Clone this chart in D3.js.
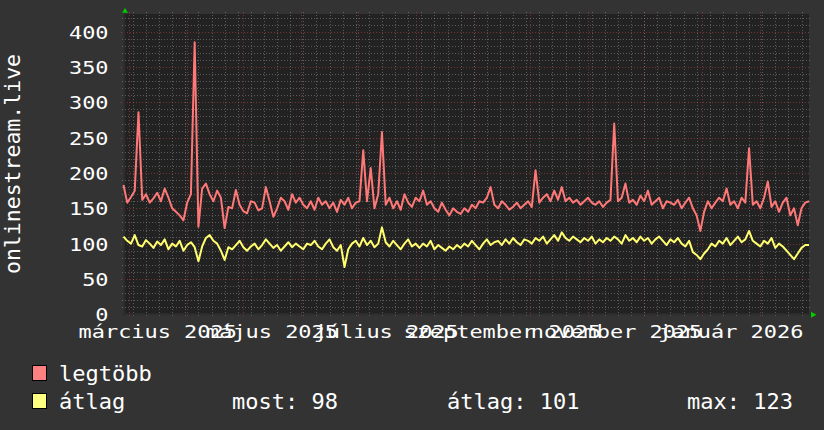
<!DOCTYPE html>
<html>
<head>
<meta charset="utf-8">
<script src="https://d3js.org/d3.v7.min.js"></script>
<style>
  body { margin: 0; background: #333333; }
  svg { display: block; }
</style>
</head>
<body>
<div id="chart"></div>
<script>
// one point every 2 days, from startDay on
var startDay = "2025-02-26";
var endDay = "2026-02-27";
var stepDays = 2;

var legtobb = [
  183,158,166,175,286,162,170,158,164,172,
  160,178,165,150,145,140,133,158,170,385,
  124,178,185,170,160,175,165,122,152,150,
  176,155,146,143,160,158,147,150,180,160,
  138,150,165,160,148,170,158,165,155,150,
  160,148,165,155,160,150,158,145,162,155,
  165,150,158,160,232,160,207,150,170,258,
  155,165,150,160,148,170,158,152,165,160,
  175,155,160,150,145,158,148,140,150,145,
  142,150,145,155,150,160,158,165,180,155,
  150,160,155,148,152,158,150,155,160,152,
  204,158,165,170,160,175,162,180,160,165,
  158,162,155,160,165,158,155,160,152,158,
  162,270,160,165,185,158,162,155,168,160,
  175,155,160,165,150,160,158,155,162,150,
  158,165,150,140,118,145,160,150,158,165,
  160,178,155,160,150,165,158,235,155,160,
  150,165,188,152,160,145,158,165,140,150,
  126,150,158,160
];

var atlag = [
  110,104,100,112,98,96,105,100,94,103,
  98,106,92,100,96,104,90,98,102,95,
  75,96,108,112,104,100,90,77,95,92,
  98,104,95,90,96,100,92,98,106,100,
  94,98,90,96,102,95,100,96,92,100,
  98,104,96,92,100,106,95,90,98,67,
  92,100,104,96,108,98,104,95,100,123,
  102,96,104,98,92,100,106,96,100,94,
  100,96,104,92,98,94,90,96,92,98,
  94,100,96,104,98,92,100,106,98,102,
  104,98,106,100,108,102,98,106,104,100,
  108,104,110,100,106,112,104,116,108,104,
  110,106,102,108,104,110,100,106,102,108,
  104,110,106,100,112,104,108,102,110,104,
  108,100,106,110,104,98,106,102,108,100,
  96,104,88,84,78,86,92,100,96,104,
  100,108,98,104,110,102,106,118,104,100,
  96,104,100,108,94,100,96,90,84,78,
  86,94,98,98
];

var labelMonths = ["2025-03-01","2025-05-01","2025-07-01","2025-09-01","2025-11-01","2026-01-01"];
var monthLabels = ["március 2025","május 2025","július 2025","szeptember 2025","november 2025","január 2026"];
var yLabels = [0,50,100,150,200,250,300,350,400];
var yMax = 425;

var seriesNames = ["legtöbb","átlag"];
var statNames = ["most:","átlag:","max:"];
var statValues = [98,101,123];

var width = 824, height = 430;
var plotLeft = 124, plotRight = 809, plotTop = 14, plotBottom = 314.3;
var axisStretch = 1.185;

var parseDay = d3.timeParse("%Y-%m-%d");
var t0 = parseDay(startDay);

var x = d3.scaleTime().domain([t0, parseDay(endDay)]).range([plotLeft - 0.5, plotRight]);
var y = d3.scaleLinear().domain([0, yMax]).range([plotBottom, plotTop]);

function toPoints(values) {
  return values.map(function(v, i) { return { date: d3.timeDay.offset(t0, i * stepDays), value: v }; });
}

var svg = d3.select("#chart").append("svg")
  .attr("width", width).attr("height", height)
  .style("font-family", "'DejaVu Sans Mono', monospace");

svg.append("rect").attr("width", width).attr("height", height).attr("fill", "#333333");
svg.append("rect")
  .attr("x", plotLeft).attr("y", plotTop)
  .attr("width", plotRight - plotLeft).attr("height", plotBottom - plotTop)
  .attr("fill", "#222222");

// grid: gray every week / 10, red every month / 50
var grid = svg.append("g").attr("shape-rendering", "crispEdges").attr("stroke-dasharray", "1,2");
var minorColor = "rgba(185,185,185,0.38)";
var majorColor = "rgba(255,80,80,0.38)";

grid.selectAll(".vminor").data(d3.timeMonday.range(x.domain()[0], x.domain()[1]))
  .enter().append("line")
  .attr("x1", function(d) { return Math.round(x(d)) + 0.5; })
  .attr("x2", function(d) { return Math.round(x(d)) + 0.5; })
  .attr("y1", plotTop - 2).attr("y2", plotBottom + 2)
  .attr("stroke", minorColor);

var hMinor = d3.range(0, yMax, 10).filter(function(v) { return v % 50 !== 0; });
grid.selectAll(".hminor").data(hMinor)
  .enter().append("line")
  .attr("x1", plotLeft - 2).attr("x2", plotRight + 2)
  .attr("y1", function(d) { return Math.round(y(d)) + 0.5; })
  .attr("y2", function(d) { return Math.round(y(d)) + 0.5; })
  .attr("stroke", minorColor);

grid.selectAll(".vmajor").data(d3.timeMonth.range(x.domain()[0], x.domain()[1]))
  .enter().append("line")
  .attr("x1", function(d) { return Math.round(x(d)) + 0.5; })
  .attr("x2", function(d) { return Math.round(x(d)) + 0.5; })
  .attr("y1", plotTop - 2).attr("y2", plotBottom + 3)
  .attr("stroke", majorColor);

grid.selectAll(".hmajor").data(yLabels.filter(function(v) { return v > 0; }))
  .enter().append("line")
  .attr("x1", plotLeft - 3).attr("x2", plotRight + 2)
  .attr("y1", function(d) { return Math.round(y(d)) + 0.5; })
  .attr("y2", function(d) { return Math.round(y(d)) + 0.5; })
  .attr("stroke", majorColor);

// axis lines and arrows
svg.append("line").attr("x1", plotLeft).attr("x2", plotLeft).attr("y1", plotTop - 2).attr("y2", plotBottom + 1)
  .attr("stroke", "#2e2e2e").attr("stroke-width", 2);
svg.append("line").attr("x1", plotLeft - 2).attr("x2", plotRight + 2).attr("y1", plotBottom).attr("y2", plotBottom)
  .attr("stroke", "#2e2e2e").attr("stroke-width", 2);
svg.append("path").attr("d", "M122,12.7L128,12.7L125,8Z").attr("fill", "#00cc00");
svg.append("path").attr("d", "M811,311.8L811,317.8L816.5,314.8Z").attr("fill", "#00cc00");

// series
var line = d3.line()
  .x(function(d) { return x(d.date); })
  .y(function(d) { return y(d.value); });

svg.append("path").datum(toPoints(legtobb))
  .attr("d", line).attr("fill", "none")
  .attr("stroke", "#ff7878").attr("stroke-width", 2).attr("stroke-linejoin", "round");
svg.append("path").datum(toPoints(atlag))
  .attr("d", line).attr("fill", "none")
  .attr("stroke", "#ffff70").attr("stroke-width", 2).attr("stroke-linejoin", "round");

// y axis labels
var yAxis = svg.append("g").attr("transform", "translate(" + plotLeft + ",0)")
  .call(d3.axisLeft(y).tickValues(yLabels).tickSize(0).tickPadding(0));
yAxis.select(".domain").remove();
yAxis.selectAll("text")
  .attr("x", -15.5 / axisStretch).attr("dy", "0.36em")
  .attr("transform", "scale(" + axisStretch + ",1)")
  .attr("fill", "#ffffff")
  .style("font-family", "'DejaVu Sans Mono', monospace")
  .style("font-size", "18.5px");

// x axis labels, half a month after the month start
var labelDates = labelMonths.map(function(m) { return d3.timeDay.offset(parseDay(m), 15); });
var xAxis = svg.append("g").attr("transform", "translate(0," + plotBottom + ")")
  .call(d3.axisBottom(x).tickValues(labelDates).tickSize(0).tickPadding(0)
    .tickFormat(function(d, i) { return monthLabels[i]; }));
xAxis.select(".domain").remove();
xAxis.selectAll("text")
  .attr("y", 23.7).attr("dy", 0)
  .attr("transform", "scale(" + axisStretch + ",1)")
  .attr("fill", "#ffffff")
  .style("font-family", "'DejaVu Sans Mono', monospace")
  .style("font-size", "18.5px");
xAxis.selectAll(".tick").attr("transform", function(d) { return "translate(" + (x(d) + 0.5) + ",0)"; });

// vertical title
svg.append("text")
  .attr("transform", "translate(19.5,164) rotate(-90)")
  .attr("text-anchor", "middle")
  .attr("fill", "#ffffff")
  .style("font-size", "21.5px")
  .text("onlinestream.live");

// legend
var colors = ["#ff8080", "#ffff80"];
var legend = svg.append("g").style("font-size", "22px").attr("fill", "#ffffff");
seriesNames.forEach(function(name, i) {
  var yy = 381 + i * 28;
  legend.append("rect").attr("x", 32.5).attr("y", yy - 15.5).attr("width", 14).attr("height", 15)
    .attr("fill", colors[i]).attr("stroke", "#000000").attr("stroke-width", 1);
  legend.append("text").attr("x", 59).attr("y", yy).text(name);
});
var statX = [232, 447, 687];
statNames.forEach(function(name, i) {
  legend.append("text").attr("x", statX[i]).attr("y", 409).text(name + " " + statValues[i]);
});
</script>
</body>
</html>
